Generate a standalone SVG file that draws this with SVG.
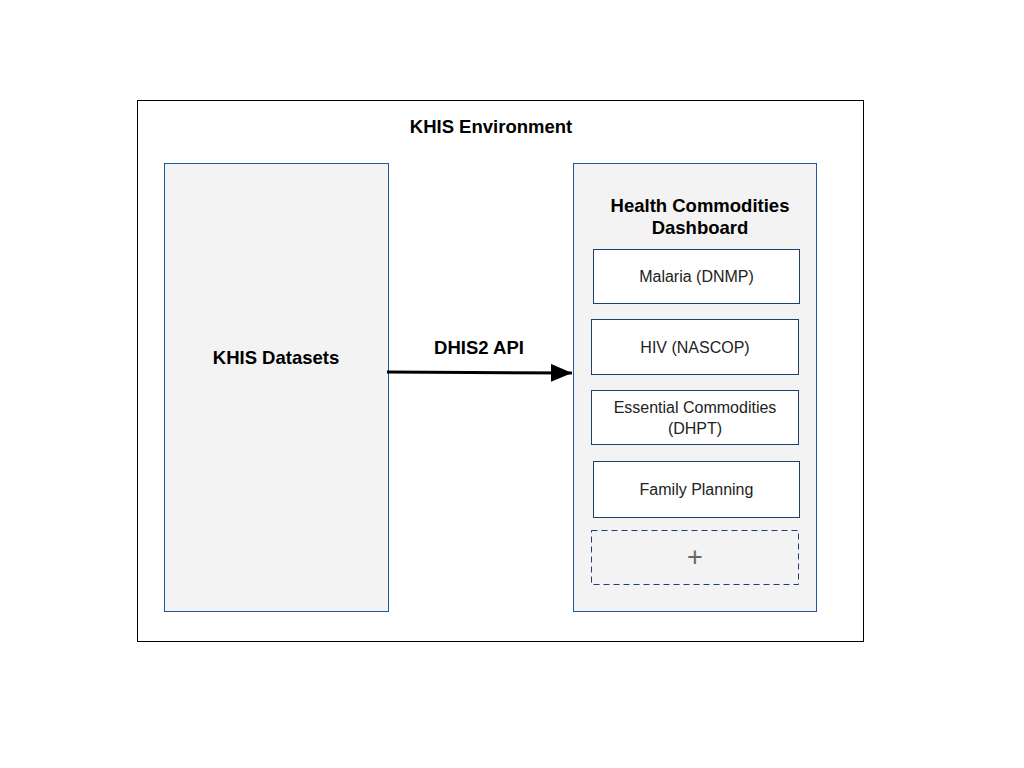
<svg xmlns="http://www.w3.org/2000/svg" width="1024" height="768" viewBox="0 0 1024 768">
<style>
text{font-family:"Liberation Sans",Arial,sans-serif;fill:#000;text-anchor:middle}
.b{font-weight:bold;font-size:18.5px}
.n{font-size:16px;fill:#222}
.panel{fill:#f3f3f3;stroke:#1a5a9c;stroke-width:1}
.item{fill:#fff;stroke:#1c3f6e;stroke-width:1}
</style>
<defs>
<marker id="ah" markerWidth="7" markerHeight="6" refX="7" refY="3" orient="auto" markerUnits="strokeWidth"><path d="M0,0 L7,3 L0,6 Z" fill="#000"/></marker>
</defs>
<rect width="1024" height="768" fill="#fff"/>
<g id="env">
<rect x="137.5" y="100.5" width="726" height="541" fill="#fff" stroke="#000" stroke-width="1"/>
<text class="b" x="491" y="133">KHIS Environment</text>
</g>
<g id="datasets">
<rect class="panel" x="164.5" y="163.5" width="224" height="448"/>
<text class="b" x="276" y="364">KHIS Datasets</text>
</g>
<g id="dashboard">
<rect class="panel" x="573.5" y="163.5" width="243" height="448"/>
<text class="b" x="700" y="212">Health Commodities</text>
<text class="b" x="700" y="234">Dashboard</text>
</g>
<g id="malaria">
<rect class="item" x="593.5" y="249.5" width="206" height="54"/>
<text class="n" x="696.5" y="282">Malaria (DNMP)</text>
</g>
<g id="hiv">
<rect class="item" x="591.5" y="319.5" width="207" height="55"/>
<text class="n" x="695" y="353">HIV (NASCOP)</text>
</g>
<g id="essential">
<rect class="item" x="591.5" y="390.5" width="207" height="54"/>
<text class="n" x="695" y="413">Essential Commodities</text>
<text class="n" x="695" y="434">(DHPT)</text>
</g>
<g id="family">
<rect class="item" x="593.5" y="461.5" width="206" height="56"/>
<text class="n" x="696.5" y="495">Family Planning</text>
</g>
<g id="more">
<rect x="591.5" y="530.5" width="207" height="54" fill="#f3f3f3" stroke="#1c3f6e" stroke-width="1" stroke-dasharray="6,4"/>
<text x="695" y="566" style="font-size:27px;fill:#666">+</text>
</g>
<g id="connectors">
<line x1="387" y1="372" x2="572" y2="373" stroke="#000" stroke-width="3" marker-end="url(#ah)"/>
<text class="b" x="479" y="354">DHIS2 API</text>
</g>
</svg>
